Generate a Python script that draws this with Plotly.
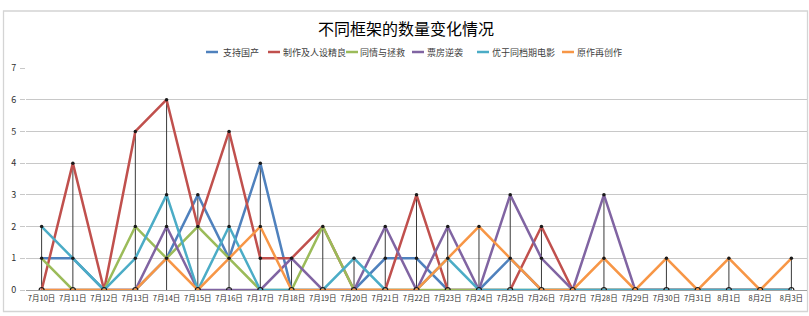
import plotly.graph_objects as go

categories = ["7月10日", "7月11日", "7月12日", "7月13日", "7月14日", "7月15日", "7月16日",
              "7月17日", "7月18日", "7月19日", "7月20日", "7月21日", "7月22日", "7月23日",
              "7月24日", "7月25日", "7月26日", "7月27日", "7月28日", "7月29日", "7月30日",
              "7月31日", "8月1日", "8月2日", "8月3日"]

support_domestic = [1, 1, 0, 0, 1, 3, 1, 4, 0, 0, 0, 1, 1, 0, 0, 1, 0, 0, 0, 0, 0, 0, 0, 0, 0]
production_quality = [0, 4, 0, 5, 6, 2, 5, 1, 1, 2, 0, 0, 3, 0, 0, 0, 2, 0, 0, 0, 0, 0, 0, 0, 0]
sympathy_rescue = [1, 0, 0, 2, 1, 2, 1, 0, 0, 2, 0, 0, 0, 0, 0, 0, 0, 0, 0, 0, 0, 0, 0, 0, 0]
boxoffice_comeback = [0, 0, 0, 0, 2, 0, 0, 0, 1, 0, 0, 2, 0, 2, 0, 3, 1, 0, 3, 0, 0, 0, 0, 0, 0]
better_than_peers = [2, 1, 0, 1, 3, 0, 2, 0, 0, 0, 1, 0, 0, 1, 0, 0, 0, 0, 0, 0, 0, 0, 0, 0, 0]
original_recreation = [0, 0, 0, 0, 1, 0, 1, 2, 0, 0, 0, 0, 0, 1, 2, 1, 0, 0, 1, 0, 1, 0, 1, 0, 1]

series_names = ["支持国产", "制作及人设精良", "同情与拯救", "票房逆袭", "优于同档期电影", "原作再创作"]
series_values = [support_domestic, production_quality, sympathy_rescue,
                 boxoffice_comeback, better_than_peers, original_recreation]
series_colors = ["#4F81BD", "#C0504D", "#9BBB59", "#8064A2", "#4BACC6", "#F79646"]

FONT = "Noto Sans CJK SC, Microsoft YaHei, sans-serif"

fig = go.Figure()

# drop lines (from highest point to the axis)
dx, dy = [], []
for i, c in enumerate(categories):
    m = max(v[i] for v in series_values)
    if m > 0:
        dx += [c, c, None]
        dy += [0, m, None]
fig.add_trace(go.Scatter(x=dx, y=dy, mode="lines", line=dict(color="#3a3a3a", width=1),
                         hoverinfo="skip", showlegend=False))

for name, vals, col in zip(series_names, series_values, series_colors):
    fig.add_trace(go.Scatter(x=categories, y=vals, mode="lines", name=name,
                             line=dict(color=col, width=2.5), showlegend=False))

# small dark markers at data vertices
mx0, my0, mx1, my1 = [], [], [], []
for i, c in enumerate(categories):
    vs = sorted(set(v[i] for v in series_values))
    for val in vs:
        if val == 0:
            mx0.append(c); my0.append(val)
        else:
            mx1.append(c); my1.append(val)
fig.add_trace(go.Scatter(x=mx1, y=my1, mode="markers",
                         marker=dict(color="#1a1a1a", size=3.5, symbol="circle"),
                         hoverinfo="skip", showlegend=False))
fig.add_trace(go.Scatter(x=mx0, y=my0, mode="markers",
                         marker=dict(color="#1a1a1a", size=5, symbol="circle-open",
                                     line=dict(width=1.2, color="#1a1a1a")),
                         hoverinfo="skip", showlegend=False))

L, R, T, B = 26, 2, 68, 26
W, H = 809, 316
PW, PH = W - L - R, H - T - B


def px(x):
    return (x - L) / PW


def py(y):
    return (H - B - y) / PH


shapes = []
annotations = []
# chart border
shapes.append(dict(type="rect", xref="paper", yref="paper",
                   x0=px(3.5), x1=px(807.5), y0=py(311.5), y1=py(11),
                   line=dict(color="#d4d4d4", width=1.3), fillcolor="rgba(0,0,0,0)", layer="below"))

# manual legend
legend_pos = [(206, 221), (268, 281), (346, 358), (412, 425), (477, 490), (562, 575)]
for (lx, tx), name, col in zip(legend_pos, series_names, series_colors):
    shapes.append(dict(type="line", xref="paper", yref="paper",
                       x0=px(lx), x1=px(lx + 12), y0=py(52), y1=py(52),
                       line=dict(color=col, width=2.5)))
    annotations.append(dict(text=name, xref="paper", yref="paper", x=px(tx), y=py(52),
                            xanchor="left", yanchor="middle", showarrow=False,
                            font=dict(family=FONT, size=9, color="#404040")))

annotations.append(dict(text="不同框架的数量变化情况", xref="paper", yref="paper",
                        x=px(406), y=py(28), xanchor="center", yanchor="middle",
                        showarrow=False, font=dict(family=FONT, size=16, color="#000000")))

fig.update_layout(
    width=W, height=H,
    margin=dict(l=L, r=R, t=T, b=B),
    paper_bgcolor="white", plot_bgcolor="white",
    showlegend=False,
    shapes=shapes, annotations=annotations,
    xaxis=dict(type="category", categoryarray=categories, range=[-0.5, len(categories) - 0.5],
               showgrid=False, showline=True, linecolor="#a0a0a0", linewidth=1,
               ticks="", tickfont=dict(family=FONT, size=7.5, color="#303030"),
               ticklabelstandoff=1, zeroline=False, fixedrange=True),
    yaxis=dict(range=[0, 7], dtick=1, showgrid=True, gridcolor="#c8c8c8", gridwidth=1,
               zeroline=False, showline=False, ticks="outside", ticklen=5, tickcolor="#c8c8c8",
               tickfont=dict(family=FONT, size=9, color="#303030"), ticklabelstandoff=2,
               fixedrange=True),
)

fig.write_html("out.html")
